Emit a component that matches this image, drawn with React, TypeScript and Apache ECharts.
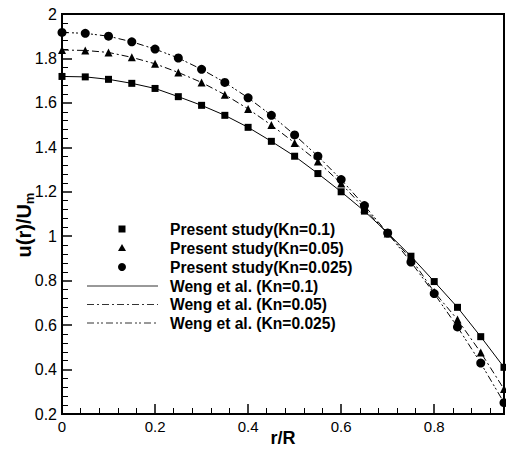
import React, { useEffect, useRef } from "react";
import * as echarts from "echarts";

const rValues = [0, 0.05, 0.1, 0.15, 0.2, 0.25, 0.3, 0.35, 0.4, 0.45, 0.5, 0.55, 0.6, 0.65, 0.7, 0.75, 0.8, 0.85, 0.9, 0.95];
const present01 = [1.719, 1.717, 1.706, 1.688, 1.665, 1.628, 1.589, 1.544, 1.49, 1.427, 1.36, 1.282, 1.2, 1.113, 1.015, 0.91, 0.796, 0.68, 0.548, 0.41];
const present005 = [1.838, 1.836, 1.827, 1.805, 1.776, 1.737, 1.692, 1.637, 1.573, 1.5, 1.42, 1.336, 1.237, 1.125, 1.012, 0.9, 0.749, 0.625, 0.477, 0.312];
const present0025 = [1.917, 1.913, 1.9, 1.875, 1.842, 1.802, 1.751, 1.692, 1.623, 1.544, 1.456, 1.36, 1.255, 1.138, 1.014, 0.884, 0.742, 0.592, 0.429, 0.251];
const weng01 = present01;
const weng005 = present005;
const weng0025 = present0025;

const legendNames = [
  "Present study(Kn=0.1)",
  "Present study(Kn=0.05)",
  "Present study(Kn=0.025)",
  "Weng et al. (Kn=0.1)",
  "Weng et al. (Kn=0.05)",
  "Weng et al. (Kn=0.025)",
];

const DASH_05 = [7, 3, 2, 3];
const DASH_025 = [7, 3, 2, 2, 2, 3];

const pairs = (ys: number[]) => rValues.map((x, i) => [x, ys[i]]);

export default function App() {
  const ref = useRef<HTMLDivElement>(null);
  useEffect(() => {
    if (!ref.current) return;
    const chart = echarts.init(ref.current, undefined, { renderer: "svg" });
    const font = "Liberation Sans, Arial, sans-serif";
    const axisCommon = {
      axisLine: { show: true, lineStyle: { color: "#000", width: 2 } },
      axisTick: { show: true, inside: true, length: 10, lineStyle: { color: "#000", width: 1.5 } },
      minorTick: { show: true, splitNumber: 5, length: 6, lineStyle: { color: "#000", width: 1 } },
      splitLine: { show: false },
      minorSplitLine: { show: false },
    };

    // legend drawn as graphic elements
    const rowY = [229, 248, 267, 286, 304.5, 323];
    const mx = 122;
    const lx1 = 87;
    const lx2 = 158;
    const tx = 170;
    const els: any[] = [];
    els.push({ type: "rect", shape: { x: mx - 3.5, y: rowY[0] - 3.5, width: 7, height: 7 }, style: { fill: "#000" } });
    els.push({ type: "polygon", shape: { points: [[mx, rowY[1] - 4], [mx + 4, rowY[1] + 3], [mx - 4, rowY[1] + 3]] }, style: { fill: "#000" } });
    els.push({ type: "circle", shape: { cx: mx, cy: rowY[2], r: 4 }, style: { fill: "#000" } });
    const dashes: any[] = [null, DASH_05, DASH_025];
    for (let i = 0; i < 3; i++) {
      els.push({
        type: "line",
        shape: { x1: lx1, y1: rowY[3 + i], x2: lx2, y2: rowY[3 + i] },
        style: { stroke: "#333", lineWidth: 1, lineDash: dashes[i] || undefined },
      });
    }
    legendNames.forEach((n, i) => {
      els.push({
        type: "text",
        x: tx,
        y: rowY[i],
        style: { text: n, fill: "#000", font: `bold 15.6px ${font}`, verticalAlign: "middle" },
      });
    });
    // y axis title with subscript
    els.push({
      type: "text",
      x: 24,
      y: 225,
      rotation: Math.PI / 2,
      style: {
        text: "{n|u(r)/U}{s|m}",
        align: "center",
        verticalAlign: "middle",
        rich: {
          n: { fontFamily: font, fontWeight: "bold", fontSize: 20, fill: "#000", color: "#000" },
          s: { fontFamily: font, fontWeight: "bold", fontSize: 13, fill: "#000", color: "#000", padding: [10, 0, 0, 0] },
        },
      },
    });
    // x axis title
    els.push({
      type: "text",
      x: 283,
      y: 438,
      style: { text: "r/R", fill: "#000", font: `bold 18px ${font}`, align: "center", verticalAlign: "middle" },
    });

    chart.setOption({
      animation: false,
      backgroundColor: "#fff",
      grid: {
        left: 62, right: 2, top: 14, bottom: 39,
        containLabel: false, outerBoundsMode: "none",
        show: true, borderColor: "#000", borderWidth: 2, backgroundColor: "transparent",
      },
      graphic: els,
      xAxis: {
        type: "value",
        min: 0,
        max: 0.95,
        interval: 0.2,
        ...axisCommon,
        axisLabel: { showMaxLabel: false, color: "#000", fontFamily: font, fontSize: 15, margin: 5 },
      },
      yAxis: {
        type: "value",
        min: 0.2,
        max: 2,
        interval: 0.2,
        ...axisCommon,
        axisLabel: { color: "#000", fontFamily: font, fontSize: 16, margin: 5 },
      },
      series: [
        { name: legendNames[0], type: "scatter", symbol: "rect", symbolSize: 7, itemStyle: { color: "#000", opacity: 1 }, data: pairs(present01), z: 5 },
        { name: legendNames[1], type: "scatter", symbol: "triangle", symbolSize: 8, itemStyle: { color: "#000", opacity: 1 }, data: pairs(present005), z: 5 },
        { name: legendNames[2], type: "scatter", symbol: "circle", symbolSize: 9, itemStyle: { color: "#000", opacity: 1 }, data: pairs(present0025), z: 5 },
        { name: legendNames[3], type: "line", symbol: "none", lineStyle: { color: "#000", width: 1, type: "solid" }, data: pairs(weng01) },
        { name: legendNames[4], type: "line", symbol: "none", lineStyle: { color: "#000", width: 1, type: DASH_05 }, data: pairs(weng005) },
        { name: legendNames[5], type: "line", symbol: "none", lineStyle: { color: "#000", width: 1, type: DASH_025 }, data: pairs(weng0025) },
      ],
    });
    return () => chart.dispose();
  }, []);
  return <div ref={ref} style={{ width: 506, height: 453, position: "absolute", left: 0, top: 0 }} />;
}
